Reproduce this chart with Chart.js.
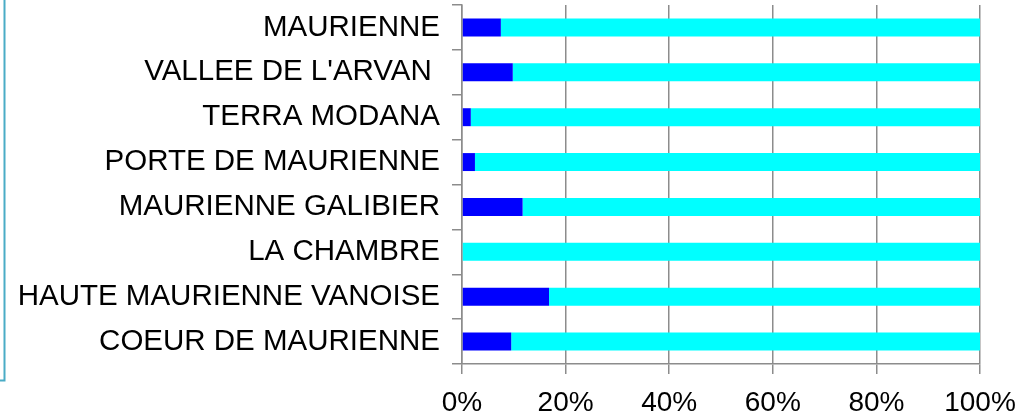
<!DOCTYPE html>
<html>
<head>
<meta charset="utf-8">
<script src="https://cdn.jsdelivr.net/npm/chart.js@4/dist/chart.umd.min.js"></script>
<style>
html,body{margin:0;padding:0;background:#fff;}
#wrap{position:relative;width:1025px;height:413px;}
</style>
</head>
<body>
<div id="wrap"><canvas id="c" width="1025" height="413"></canvas></div>
<script>
const categories = ["MAURIENNE","VALLEE DE L'ARVAN ","TERRA MODANA","PORTE DE MAURIENNE","MAURIENNE GALIBIER","LA CHAMBRE","HAUTE MAURIENNE VANOISE","COEUR DE MAURIENNE"];
const blueValues = [7.5, 9.8, 1.7, 2.5, 11.7, 0, 16.8, 9.5];
const cyanValues = [92.5, 90.2, 98.3, 97.5, 88.3, 100, 83.2, 90.5];
const xTickLabels = ["0%","20%","40%","60%","80%","100%"];

const frameLine = {
  id:'frameLine',
  afterDraw(chart){
    const ctx = chart.ctx;
    ctx.save();
    ctx.strokeStyle = '#4aacc6';
    ctx.lineWidth = 2;
    ctx.beginPath();
    ctx.moveTo(4.5, 0);
    ctx.lineTo(4.5, 380.5);
    ctx.lineTo(0, 380.5);
    ctx.stroke();
    ctx.restore();
  }
};

new Chart(document.getElementById('c'), {
  type:'bar',
  data:{
    labels:categories,
    datasets:[
      {label:'a', data:blueValues, backgroundColor:'#0000ff', borderWidth:0, categoryPercentage:1, barPercentage:0.4},
      {label:'b', data:cyanValues, backgroundColor:'#00ffff', borderWidth:0, categoryPercentage:1, barPercentage:0.4}
    ]
  },
  options:{
    indexAxis:'y',
    responsive:false,
    animation:false,
    layout:{padding:{left:0,right:45,top:5,bottom:0}},
    plugins:{legend:{display:false},tooltip:{enabled:false}},
    scales:{
      x:{
        stacked:true,
        min:0,max:100,
        afterFit(s){ s.height = 49; s.paddingLeft = 0; s.paddingRight = 0; },
        afterBuildTicks(s){ s.ticks = xTickLabels.map((t,i)=>({value:i*20})); },
        ticks:{
          callback:(v,i)=>xTickLabels[i],
          color:'#000',
          font:{family:'"Liberation Sans", Arial, sans-serif', size:28},
          padding:12,
          maxRotation:0,
          autoSkip:false
        },
        grid:{color:'#8c8c8c', lineWidth:1.5, tickLength:10, drawTicks:true},
        border:{color:'#8c8c8c', width:1.5}
      },
      y:{
        stacked:true,
        afterFit(s){ s.width = 462; s.paddingTop = 0; s.paddingBottom = 0; },
        ticks:{
          color:'#000',
          font:{family:'"Liberation Sans", Arial, sans-serif', size:29.5},
          padding:12,
          autoSkip:false
        },
        grid:{color:'#8c8c8c', lineWidth:1.5, tickLength:10, drawOnChartArea:false, drawTicks:true, offset:true},
        border:{color:'#8c8c8c', width:1.5}
      }
    }
  },
  plugins:[frameLine]
});
</script>
</body>
</html>
